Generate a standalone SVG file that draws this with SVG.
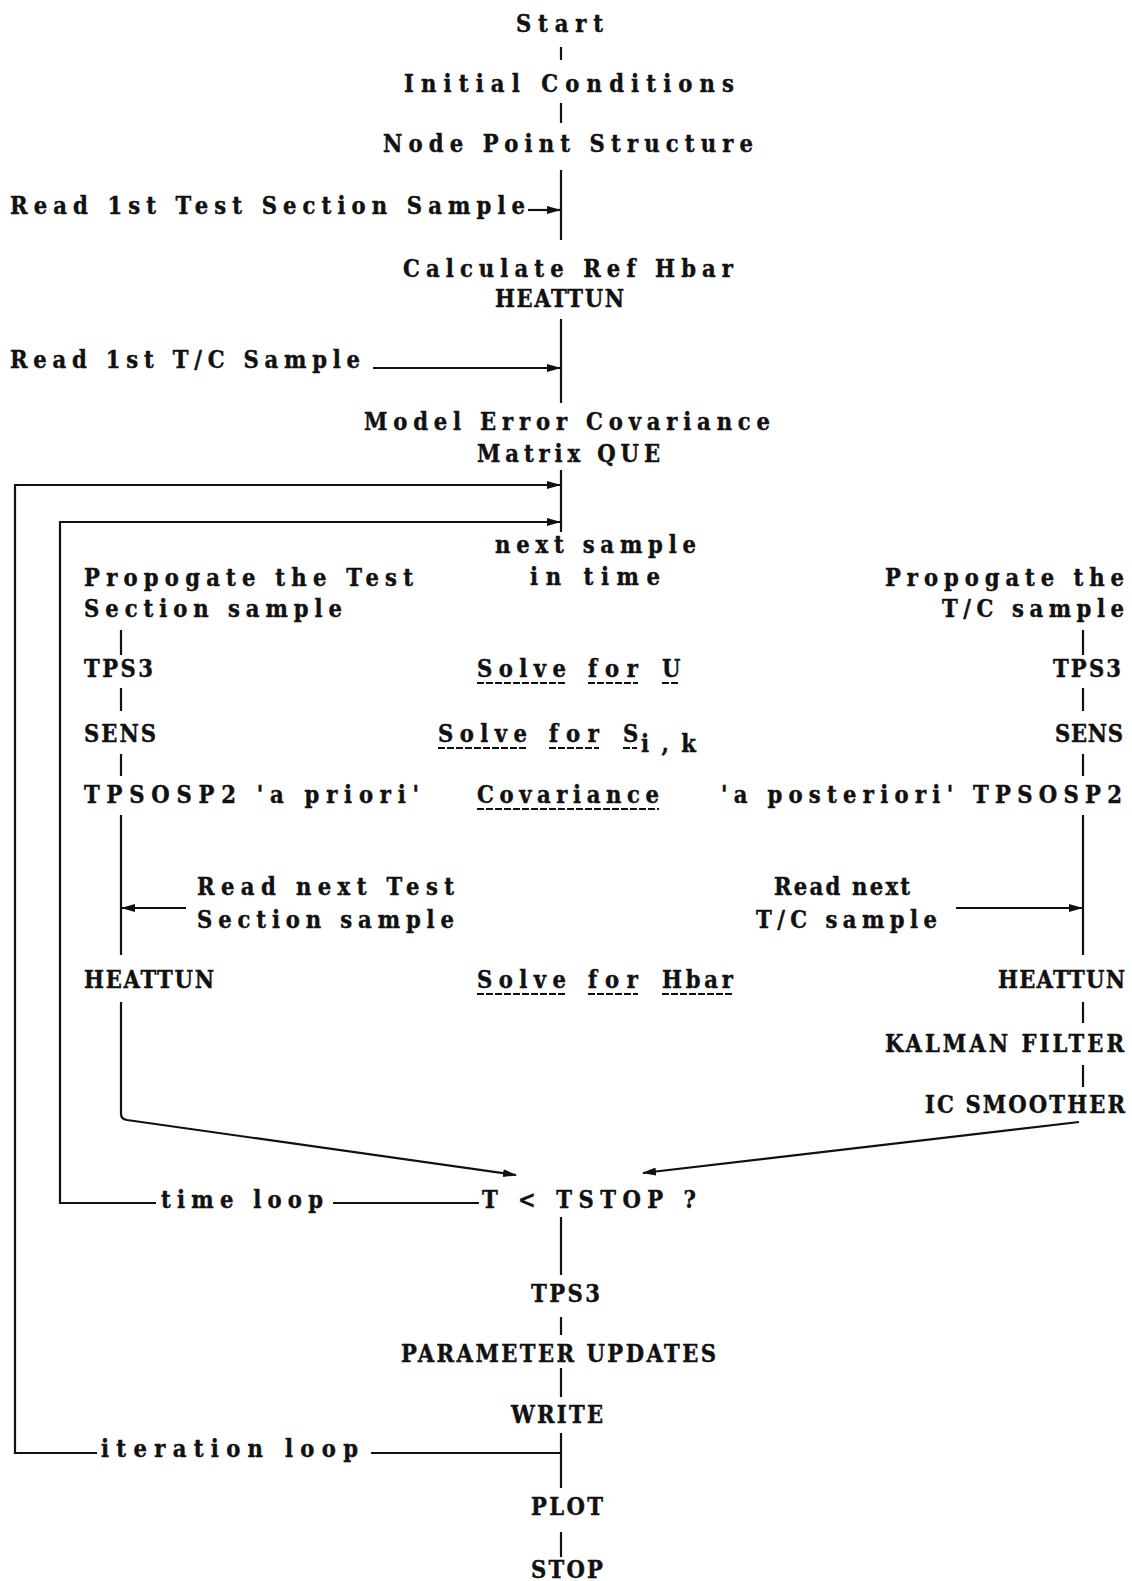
<svg xmlns="http://www.w3.org/2000/svg" width="1132" height="1581" viewBox="0 0 1132 1581">
<defs>
<style>
text{font-family:"DejaVu Serif","Liberation Serif",serif;font-weight:bold;font-stretch:condensed;font-size:23.5px;fill:#111;stroke:#111;stroke-width:0.4}
.ln{stroke:#111;stroke-width:2.2;fill:none}
.ul{stroke:#111;stroke-width:2;fill:none;stroke-dasharray:7 2}
</style>
<marker id="ah" viewBox="0 0 14 10" refX="13" refY="5" markerWidth="14" markerHeight="10" markerUnits="userSpaceOnUse" orient="auto">
<path d="M0,1 L14,5 L0,9 Z" fill="#111"/>
</marker>
</defs>
<rect width="1132" height="1581" fill="#fff"/>

<g id="connectors">
<!-- main column -->
<line class="ln" x1="561" y1="47" x2="561" y2="60"/>
<line class="ln" x1="561" y1="103" x2="561" y2="123"/>
<line class="ln" x1="561" y1="170" x2="561" y2="240"/>
<line class="ln" x1="561" y1="319" x2="561" y2="403"/>
<line class="ln" x1="561" y1="470" x2="561" y2="532"/>
<line class="ln" x1="528" y1="210" x2="560" y2="210" marker-end="url(#ah)"/>
<line class="ln" x1="373" y1="368" x2="560" y2="368" marker-end="url(#ah)"/>
<!-- outer iteration loop -->
<line class="ln" x1="561" y1="1453" x2="371" y2="1453"/>
<path class="ln" d="M97,1453 H15 V485 H560" marker-end="url(#ah)"/>
<!-- inner time loop -->
<line class="ln" x1="479" y1="1203" x2="333" y2="1203"/>
<path class="ln" d="M156,1203 H60 V522 H560" marker-end="url(#ah)"/>
<!-- left column -->
<line class="ln" x1="121" y1="630" x2="121" y2="655"/>
<line class="ln" x1="121" y1="688" x2="121" y2="711"/>
<line class="ln" x1="121" y1="754" x2="121" y2="776"/>
<line class="ln" x1="121" y1="815" x2="121" y2="955"/>
<line class="ln" x1="186" y1="908" x2="122" y2="908" marker-end="url(#ah)"/>
<path class="ln" d="M121,1002 V1114 Q121,1119 127,1120 L516,1175" marker-end="url(#ah)"/>
<!-- right column -->
<line class="ln" x1="1083" y1="630" x2="1083" y2="655"/>
<line class="ln" x1="1083" y1="688" x2="1083" y2="711"/>
<line class="ln" x1="1083" y1="754" x2="1083" y2="776"/>
<line class="ln" x1="1083" y1="815" x2="1083" y2="955"/>
<line class="ln" x1="956" y1="908" x2="1082" y2="908" marker-end="url(#ah)"/>
<line class="ln" x1="1083" y1="1002" x2="1083" y2="1023"/>
<line class="ln" x1="1083" y1="1065" x2="1083" y2="1087"/>
<line class="ln" x1="1079" y1="1122" x2="643" y2="1173" marker-end="url(#ah)"/>
<!-- bottom column -->
<line class="ln" x1="561" y1="1217" x2="561" y2="1275"/>
<line class="ln" x1="561" y1="1317" x2="561" y2="1335"/>
<line class="ln" x1="561" y1="1368" x2="561" y2="1397"/>
<line class="ln" x1="561" y1="1433" x2="561" y2="1488"/>
<line class="ln" x1="561" y1="1532" x2="561" y2="1557"/>
</g>

<g id="n-start"><text x="516" y="32" textLength="87" lengthAdjust="spacing">Start</text></g>
<g id="n-initial"><text x="404" y="92" textLength="330" lengthAdjust="spacing">Initial Conditions</text></g>
<g id="n-node"><text x="383" y="152" textLength="370" lengthAdjust="spacing">Node Point Structure</text></g>
<g id="n-read1ts"><text x="10" y="214" textLength="515" lengthAdjust="spacing">Read 1st Test Section Sample</text></g>
<g id="n-calc">
<text x="403" y="277" textLength="330" lengthAdjust="spacing">Calculate Ref Hbar</text>
<text x="495" y="307" textLength="129" lengthAdjust="spacing">HEATTUN</text>
</g>
<g id="n-read1tc"><text x="10" y="368" textLength="350" lengthAdjust="spacing">Read 1st T/C Sample</text></g>
<g id="n-model">
<text x="364" y="430" textLength="406" lengthAdjust="spacing">Model Error Covariance</text>
<text x="477" y="462" textLength="183" lengthAdjust="spacing">Matrix QUE</text>
</g>
<g id="n-next">
<text x="495" y="553" textLength="201" lengthAdjust="spacing">next sample</text>
<text x="530" y="585" textLength="130" lengthAdjust="spacing">in time</text>
</g>
<g id="n-prop-left">
<text x="84" y="586" textLength="329" lengthAdjust="spacing">Propogate the Test</text>
<text x="84" y="617" textLength="258" lengthAdjust="spacing">Section sample</text>
</g>
<g id="n-prop-right">
<text x="885" y="586" textLength="239" lengthAdjust="spacing">Propogate the</text>
<text x="942" y="617" textLength="182" lengthAdjust="spacing">T/C sample</text>
</g>
<g id="n-tps3-left"><text x="84" y="677" textLength="69" lengthAdjust="spacing">TPS3</text></g>
<g id="n-tps3-right"><text x="1053" y="677" textLength="68" lengthAdjust="spacing">TPS3</text></g>
<g id="n-solveu">
<text y="677"><tspan x="477" textLength="89" lengthAdjust="spacing">Solve</tspan><tspan x="588" textLength="50" lengthAdjust="spacing">for</tspan><tspan x="662" textLength="16" lengthAdjust="spacing">U</tspan></text>
<line class="ul" x1="477" y1="683" x2="566" y2="683"/>
<line class="ul" x1="588" y1="683" x2="638" y2="683"/>
<line class="ul" x1="662" y1="683" x2="678" y2="683"/>
</g>
<g id="n-sens-left"><text x="84" y="742" textLength="72" lengthAdjust="spacing">SENS</text></g>
<g id="n-sens-right"><text x="1055" y="742" textLength="68" lengthAdjust="spacing">SENS</text></g>
<g id="n-solves">
<text y="742"><tspan x="438" textLength="89" lengthAdjust="spacing">Solve</tspan><tspan x="549" textLength="50" lengthAdjust="spacing">for</tspan><tspan x="623" textLength="14" lengthAdjust="spacing">S</tspan><tspan x="641" y="752" textLength="55" lengthAdjust="spacing">i,k</tspan></text>
<line class="ul" x1="438" y1="748" x2="527" y2="748"/>
<line class="ul" x1="549" y1="748" x2="599" y2="748"/>
<line class="ul" x1="623" y1="748" x2="637" y2="748"/>
</g>
<g id="n-tpsosp2-left"><text x="84" y="803" textLength="335" lengthAdjust="spacing">TPSOSP2 'a priori'</text></g>
<g id="n-cov">
<text x="477" y="803" textLength="182" lengthAdjust="spacing">Covariance</text>
<line class="ul" x1="477" y1="809" x2="659" y2="809"/>
</g>
<g id="n-tpsosp2-right"><text x="721" y="803" textLength="401" lengthAdjust="spacing">'a posteriori' TPSOSP2</text></g>
<g id="n-readnext-ts">
<text x="197" y="895" textLength="257" lengthAdjust="spacing">Read next Test</text>
<text x="197" y="928" textLength="257" lengthAdjust="spacing">Section sample</text>
</g>
<g id="n-readnext-tc">
<text x="774" y="895" textLength="136" lengthAdjust="spacing">Read next</text>
<text x="756" y="928" textLength="181" lengthAdjust="spacing">T/C sample</text>
</g>
<g id="n-heattun-left"><text x="84" y="988" textLength="130" lengthAdjust="spacing">HEATTUN</text></g>
<g id="n-solvehbar">
<text y="988"><tspan x="477" textLength="89" lengthAdjust="spacing">Solve</tspan><tspan x="588" textLength="50" lengthAdjust="spacing">for</tspan><tspan x="662" textLength="71" lengthAdjust="spacing">Hbar</tspan></text>
<line class="ul" x1="477" y1="994" x2="566" y2="994"/>
<line class="ul" x1="588" y1="994" x2="638" y2="994"/>
<line class="ul" x1="662" y1="994" x2="733" y2="994"/>
</g>
<g id="n-heattun-right"><text x="998" y="988" textLength="127" lengthAdjust="spacing">HEATTUN</text></g>
<g id="n-kalman"><text x="885" y="1052" textLength="239" lengthAdjust="spacing">KALMAN FILTER</text></g>
<g id="n-smoother"><text x="925" y="1113" textLength="200" lengthAdjust="spacing">IC SMOOTHER</text></g>
<g id="n-timeloop"><text x="161" y="1208" textLength="162" lengthAdjust="spacing">time loop</text></g>
<g id="n-tstop"><text x="482" y="1208" textLength="214" lengthAdjust="spacing">T &lt; TSTOP ?</text></g>
<g id="n-tps3-bottom"><text x="531" y="1302" textLength="69" lengthAdjust="spacing">TPS3</text></g>
<g id="n-param"><text x="401" y="1362" textLength="315" lengthAdjust="spacing">PARAMETER UPDATES</text></g>
<g id="n-write"><text x="511" y="1423" textLength="92" lengthAdjust="spacing">WRITE</text></g>
<g id="n-iterloop"><text x="101" y="1457" textLength="257" lengthAdjust="spacing">iteration loop</text></g>
<g id="n-plot"><text x="531" y="1515" textLength="72" lengthAdjust="spacing">PLOT</text></g>
<g id="n-stop"><text x="531" y="1578" textLength="72" lengthAdjust="spacing">STOP</text></g>
</svg>
